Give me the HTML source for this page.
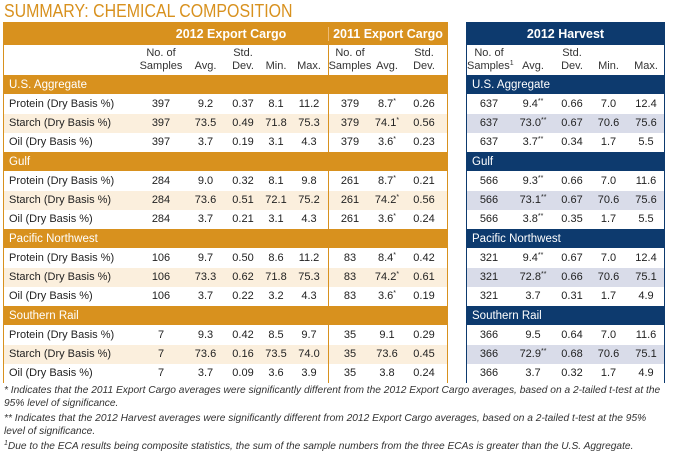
<!DOCTYPE html>
<html><head><meta charset="utf-8"><style>
*{margin:0;padding:0;box-sizing:border-box}
body{width:674px;height:457px;background:#fff;font-family:"Liberation Sans",Arial,sans-serif;position:relative;overflow:hidden;color:#222}
.title{position:absolute;left:4px;top:1px;font-size:18px;color:#D8911E;white-space:nowrap;transform:scaleX(0.885);transform-origin:0 0}
.panel{position:absolute;top:22px}
.row{display:flex;align-items:center;height:19.25px;font-size:11px;white-space:nowrap}
.row>div{text-align:center;flex:none}
.row>div.l{text-align:left;padding-left:5px}
.band{color:#fff;font-size:11.5px}
.band>div{text-align:left!important;padding-left:5px}
.hdr{height:22px;color:#fff;font-weight:bold;font-size:12.5px}
.sub{height:30px;line-height:13px;font-size:11px;color:#333}
.sub>div{align-self:flex-end;padding-bottom:2px}
sup{font-size:7px;vertical-align:4px;line-height:0}
.fn{position:absolute;left:4px;font-size:10.2px;font-style:italic;color:#333;white-space:nowrap}
</style></head><body>
<div class="title">SUMMARY: CHEMICAL COMPOSITION</div>

<div class="panel" style="left:3px;width:445px;height:361px;border:1px solid #D8911E;">
  <div style="position:absolute;left:324px;top:22px;width:1px;height:338px;background:#D8911E"></div>
  <div class="row hdr" style="background:#D8911E"><div style="width:324px;text-align:center;padding-left:130px">2012 Export Cargo</div><div style="width:119px;border-left:1px solid #eebb77">2011 Export Cargo</div></div>
  <div class="row sub"><div style="width:131px"></div><div style="width:52px">No. of<br>Samples</div><div style="width:37px">Avg.</div><div style="width:38px">Std.<br>Dev.</div><div style="width:28px">Min.</div><div style="width:38px">Max.</div><div style="width:44px">No. of<br>Samples</div><div style="width:30px">Avg.</div><div style="width:44px">Std.<br>Dev.</div></div>
  <div id="L"></div>
</div>

<div class="panel" style="left:466px;width:199px;height:361px;border:1px solid #0D3A6E;">
  <div class="row hdr" style="background:#0D3A6E"><div style="width:197px">2012 Harvest</div></div>
  <div class="row sub"><div style="width:44px">No. of<br>Samples<sup>1</sup></div><div style="width:44px">Avg.</div><div style="width:34px">Std.<br>Dev.</div><div style="width:39px">Min.</div><div style="width:36px">Max.</div></div>
  <div id="R"></div>
</div>

<div class="fn" style="top:385px">* Indicates that the 2011 Export Cargo averages were significantly different from the 2012 Export Cargo averages, based on a 2-tailed t-test at the</div>
<div class="fn" style="top:398px">95% level of significance.</div>
<div class="fn" style="top:413px">** Indicates that the 2012 Harvest averages were significantly different from 2012 Export Cargo averages, based on a 2-tailed t-test at the 95%</div>
<div class="fn" style="top:426px">level of significance.</div>
<div class="fn" style="top:441px"><sup>1</sup>Due to the ECA results being composite statistics, the sum of the sample numbers from the three ECAs is greater than the U.S. Aggregate.</div>

<script>
var data=[
["U.S. Aggregate",[
["Protein","397","9.2","0.37","8.1","11.2","379","8.7*","0.26","637","9.4**","0.66","7.0","12.4"],
["Starch","397","73.5","0.49","71.8","75.3","379","74.1*","0.56","637","73.0**","0.67","70.6","75.6"],
["Oil","397","3.7","0.19","3.1","4.3","379","3.6*","0.23","637","3.7**","0.34","1.7","5.5"]]],
["Gulf",[
["Protein","284","9.0","0.32","8.1","9.8","261","8.7*","0.21","566","9.3**","0.66","7.0","11.6"],
["Starch","284","73.6","0.51","72.1","75.2","261","74.2*","0.56","566","73.1**","0.67","70.6","75.6"],
["Oil","284","3.7","0.21","3.1","4.3","261","3.6*","0.24","566","3.8**","0.35","1.7","5.5"]]],
["Pacific Northwest",[
["Protein","106","9.7","0.50","8.6","11.2","83","8.4*","0.42","321","9.4**","0.67","7.0","12.4"],
["Starch","106","73.3","0.62","71.8","75.3","83","74.2*","0.61","321","72.8**","0.66","70.6","75.1"],
["Oil","106","3.7","0.22","3.2","4.3","83","3.6*","0.19","321","3.7","0.31","1.7","4.9"]]],
["Southern Rail",[
["Protein","7","9.3","0.42","8.5","9.7","35","9.1","0.29","366","9.5","0.64","7.0","11.6"],
["Starch","7","73.6","0.16","73.5","74.0","35","73.6","0.45","366","72.9**","0.68","70.6","75.1"],
["Oil","7","3.7","0.09","3.6","3.9","35","3.8","0.24","366","3.7","0.32","1.7","4.9"]]]];
function f(s){return s.replace(/(\*+)/,'<sup>$1</sup>');}
var lw=[131,52,37,38,28,38,44,30,44],rw=[44,44,34,39,36];
var L='',R='';
data.forEach(function(g){
 L+='<div class="row band" style="background:#D8911E"><div>'+g[0]+'</div></div>';
 R+='<div class="row band" style="background:#0D3A6E"><div>'+g[0]+'</div></div>';
 g[1].forEach(function(r,i){
  var lb=i==1?'#FBEFDD':'#fff', rb=i==1?'#D9DCE9':'#fff';
  L+='<div class="row" style="background:'+lb+'">';
  L+='<div class="l" style="width:131px">'+r[0]+' (Dry Basis %)</div>';
  for(var k=1;k<9;k++)L+='<div style="width:'+lw[k]+'px">'+f(r[k])+'</div>';
  L+='</div>';
  R+='<div class="row" style="background:'+rb+'">';
  for(var k=0;k<5;k++)R+='<div style="width:'+rw[k]+'px">'+f(r[9+k])+'</div>';
  R+='</div>';
 });
});
document.getElementById('L').innerHTML=L;
document.getElementById('R').innerHTML=R;
</script>
</body></html>
